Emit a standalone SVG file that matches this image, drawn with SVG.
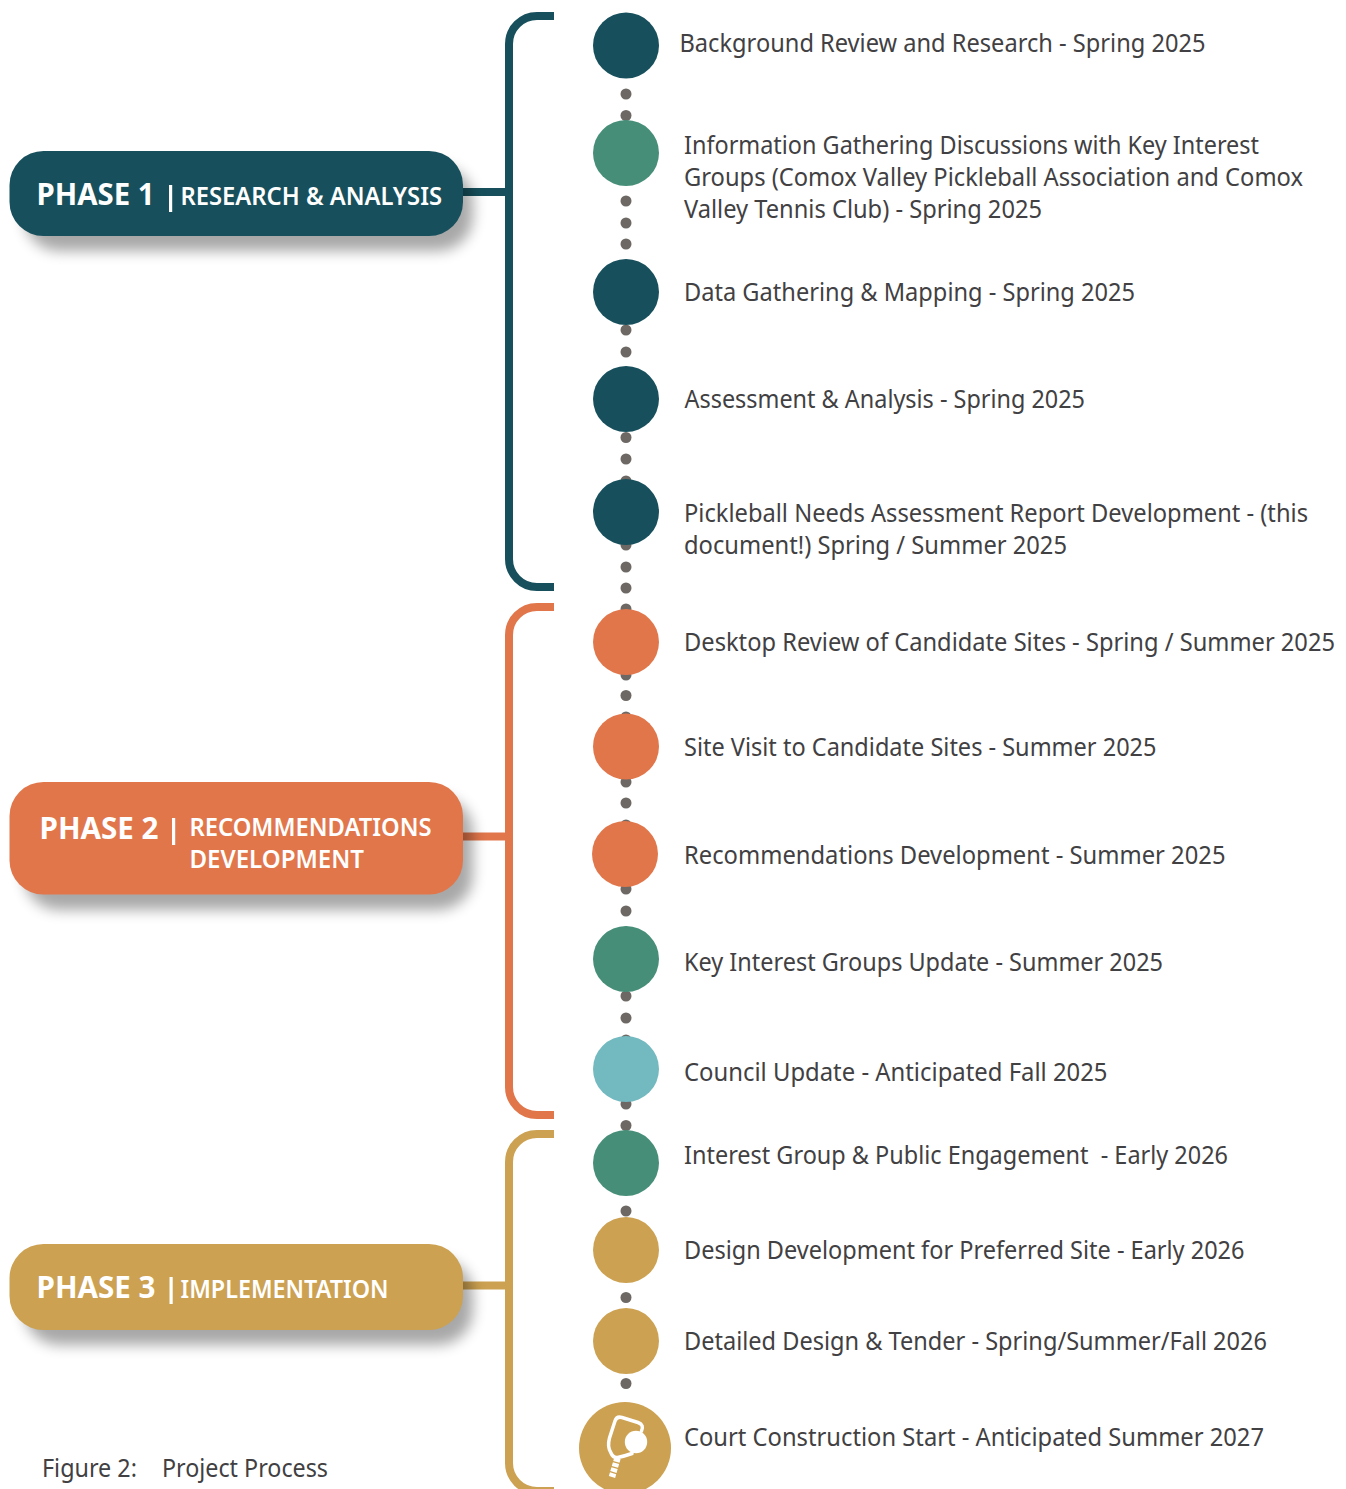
<svg xmlns="http://www.w3.org/2000/svg" width="1346" height="1489" viewBox="0 0 1346 1489">
<style>
.t{font-family:"Noto Sans","Open Sans",sans-serif;font-size:24.5px;fill:#414042}
.pb{font-family:"Noto Sans","Open Sans",sans-serif;font-size:30px;font-weight:700;fill:#fff}
.ps{font-family:"Noto Sans","Open Sans",sans-serif;font-size:25px;font-weight:600;fill:#fff}
.br{fill:none;stroke-width:8}
.d{fill:#6d6864}
.pipe{fill:#fff}
.sh{fill:#000;opacity:.34}
</style>
<defs>
<filter id="sh" x="-10%" y="-40%" width="125%" height="190%"><feGaussianBlur stdDeviation="7"/></filter>
</defs>
<rect width="1346" height="1489" fill="#fff"/>
<g id="connectors">
<path class="br" stroke="#17505c" d="M554 16H537A28 28 0 0 0 509 44V559A28 28 0 0 0 537 587H554"/>
<path class="br" stroke="#e1764b" d="M554 607H537A28 28 0 0 0 509 635V1087A28 28 0 0 0 537 1115H554"/>
<path class="br" stroke="#cca151" d="M554 1134H537A28 28 0 0 0 509 1162V1463A28 28 0 0 0 537 1491H554"/>
<g class="d">
<circle cx="626" cy="94" r="5.500"/><circle cx="626" cy="115.500" r="5.500"/>
<circle cx="626" cy="201" r="5.500"/><circle cx="626" cy="223" r="5.500"/><circle cx="626" cy="244" r="5.500"/>
<circle cx="626" cy="330" r="5.500"/><circle cx="626" cy="352" r="5.500"/>
<circle cx="626" cy="437.500" r="5.500"/><circle cx="626" cy="459" r="5.500"/><circle cx="626" cy="481" r="5.500"/>
<circle cx="626" cy="545" r="5.500"/><circle cx="626" cy="567" r="5.500"/><circle cx="626" cy="588" r="5.500"/><circle cx="626" cy="609" r="5.500"/>
<circle cx="626" cy="675" r="5.500"/><circle cx="626" cy="695.500" r="5.500"/><circle cx="626" cy="717" r="5.500"/>
<circle cx="626" cy="782" r="5.500"/><circle cx="626" cy="803" r="5.500"/><circle cx="626" cy="825" r="5.500"/>
<circle cx="626" cy="889" r="5.500"/><circle cx="626" cy="911" r="5.500"/><circle cx="626" cy="932" r="5.500"/>
<circle cx="626" cy="996" r="5.500"/><circle cx="626" cy="1018" r="5.500"/><circle cx="626" cy="1040" r="5.500"/>
<circle cx="626" cy="1104" r="5.500"/><circle cx="626" cy="1125.500" r="5.500"/>
<circle cx="626" cy="1211" r="5.500"/><circle cx="626" cy="1297.500" r="5.500"/><circle cx="626" cy="1383.500" r="5.500"/>
</g>
<rect x="463" y="188" width="44" height="8" fill="#17505c"/>
<rect x="463" y="832.500" width="44" height="8" fill="#e1764b"/>
<rect x="463" y="1281.500" width="44" height="8" fill="#cca151"/>
</g>
<g id="phase1">
<rect class="sh" x="24" y="166" width="449" height="85" rx="35" filter="url(#sh)"/>
<rect x="9.500" y="151" width="453.500" height="85" rx="34" fill="#17505c"/>
<text class="pb" x="36.500" y="205" textLength="118" lengthAdjust="spacingAndGlyphs">PHASE 1</text>
<rect class="pipe" x="169" y="185" width="3.200" height="27"/>
<text class="ps" x="180.500" y="205" textLength="261.500" lengthAdjust="spacingAndGlyphs">RESEARCH &amp; ANALYSIS</text>
</g>
<g id="phase2">
<rect class="sh" x="24" y="797" width="449" height="113" rx="35" filter="url(#sh)"/>
<rect x="9.500" y="782" width="453.500" height="112.500" rx="34" fill="#e1764b"/>
<text class="pb" x="39.500" y="839" textLength="119" lengthAdjust="spacingAndGlyphs">PHASE 2</text>
<rect class="pipe" x="172" y="818" width="3.200" height="27"/>
<text class="ps" x="189.500" y="836" textLength="242" lengthAdjust="spacingAndGlyphs">RECOMMENDATIONS</text>
<text class="ps" x="189.500" y="868" textLength="174.500" lengthAdjust="spacingAndGlyphs">DEVELOPMENT</text>
</g>
<g id="phase3">
<rect class="sh" x="24" y="1259" width="449" height="86" rx="35" filter="url(#sh)"/>
<rect x="9.500" y="1244" width="453.500" height="86" rx="34" fill="#cca151"/>
<text class="pb" x="36.500" y="1298" textLength="119" lengthAdjust="spacingAndGlyphs">PHASE 3</text>
<rect class="pipe" x="169.500" y="1277" width="3.200" height="27"/>
<text class="ps" x="180.500" y="1298" textLength="208" lengthAdjust="spacingAndGlyphs">IMPLEMENTATION</text>
</g>
<g id="step1"><circle cx="626" cy="45.500" r="33" fill="#17505c"/><text class="t" x="679.500" y="52" textLength="526" lengthAdjust="spacingAndGlyphs">Background Review and Research - Spring 2025</text></g>
<g id="step2"><circle cx="626" cy="153" r="33" fill="#468e78"/>
<text class="t" x="684" y="154" textLength="575" lengthAdjust="spacingAndGlyphs">Information Gathering Discussions with Key Interest</text>
<text class="t" x="684" y="186" textLength="619" lengthAdjust="spacingAndGlyphs">Groups (Comox Valley Pickleball Association and Comox</text>
<text class="t" x="684" y="218" textLength="358" lengthAdjust="spacingAndGlyphs">Valley Tennis Club) - Spring 2025</text></g>
<g id="step3"><circle cx="626" cy="292" r="33" fill="#17505c"/><text class="t" x="684" y="301" textLength="451" lengthAdjust="spacingAndGlyphs">Data Gathering &amp; Mapping - Spring 2025</text></g>
<g id="step4"><circle cx="626" cy="399" r="33" fill="#17505c"/><text class="t" x="684.500" y="408" textLength="400.500" lengthAdjust="spacingAndGlyphs">Assessment &amp; Analysis - Spring 2025</text></g>
<g id="step5"><circle cx="626" cy="512" r="33" fill="#17505c"/>
<text class="t" x="684" y="522" textLength="624" lengthAdjust="spacingAndGlyphs">Pickleball Needs Assessment Report Development - (this</text>
<text class="t" x="684" y="554" textLength="383" lengthAdjust="spacingAndGlyphs">document!) Spring / Summer 2025</text></g>
<g id="step6"><circle cx="626" cy="642" r="33" fill="#e1764b"/><text class="t" x="684" y="651" textLength="651" lengthAdjust="spacingAndGlyphs">Desktop Review of Candidate Sites - Spring / Summer 2025</text></g>
<g id="step7"><circle cx="626" cy="746.500" r="33" fill="#e1764b"/><text class="t" x="684" y="756" textLength="472.500" lengthAdjust="spacingAndGlyphs">Site Visit to Candidate Sites - Summer 2025</text></g>
<g id="step8"><circle cx="625" cy="854" r="33" fill="#e1764b"/><text class="t" x="684" y="864" textLength="541.500" lengthAdjust="spacingAndGlyphs">Recommendations Development - Summer 2025</text></g>
<g id="step9"><circle cx="626" cy="959" r="33" fill="#468e78"/><text class="t" x="684" y="971" textLength="479" lengthAdjust="spacingAndGlyphs">Key Interest Groups Update - Summer 2025</text></g>
<g id="step10"><circle cx="626" cy="1069" r="33" fill="#72b9c0"/><text class="t" x="684" y="1081" textLength="423.500" lengthAdjust="spacingAndGlyphs">Council Update - Anticipated Fall 2025</text></g>
<g id="step11"><circle cx="626" cy="1163" r="33" fill="#468e78"/><text class="t" x="684" y="1164" textLength="544" lengthAdjust="spacingAndGlyphs" xml:space="preserve">Interest Group &amp; Public Engagement  - Early 2026</text></g>
<g id="step12"><circle cx="626" cy="1250" r="33" fill="#cca151"/><text class="t" x="684" y="1259" textLength="560.500" lengthAdjust="spacingAndGlyphs">Design Development for Preferred Site - Early 2026</text></g>
<g id="step13"><circle cx="626" cy="1341" r="33" fill="#cca151"/><text class="t" x="684" y="1350" textLength="583" lengthAdjust="spacingAndGlyphs">Detailed Design &amp; Tender - Spring/Summer/Fall 2026</text></g>
<g id="step14"><circle cx="625" cy="1448" r="46" fill="#cca151"/>
<path d="M641.500 1431Q644.500 1425 638 1422.500L622 1417.500Q616.500 1416 615 1421L609.500 1438Q607 1447 611 1453Q613 1458 617.500 1457.500Q625 1456 632 1453.500" fill="none" stroke="#fff" stroke-width="3.500" stroke-linecap="round"/>
<path d="M617.500 1458L612 1477" fill="none" stroke="#fff" stroke-width="6.500" stroke-dasharray="4 1.300"/>
<circle cx="636" cy="1442" r="11.200" fill="#fff"/>
<text class="t" x="684" y="1446" textLength="580" lengthAdjust="spacingAndGlyphs">Court Construction Start - Anticipated Summer 2027</text></g>
<g id="caption"><text class="t" x="42" y="1477" textLength="95" lengthAdjust="spacingAndGlyphs">Figure 2:</text><text class="t" x="162" y="1477" textLength="166" lengthAdjust="spacingAndGlyphs">Project Process</text></g>
</svg>
